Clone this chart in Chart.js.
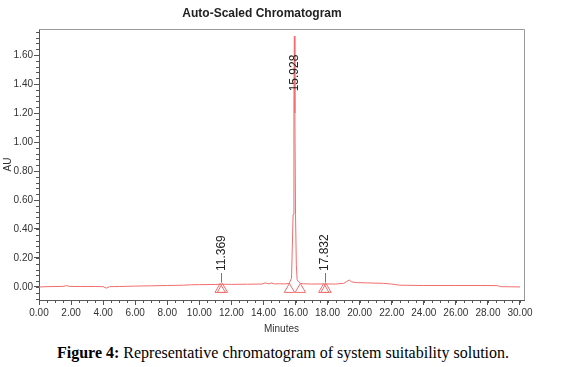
<!DOCTYPE html>
<html>
<head>
<meta charset="utf-8">
<script src="https://cdn.jsdelivr.net/npm/chart.js@4/dist/chart.umd.min.js"></script>
<style>
  body { margin: 0; background: #fff; }
  #wrap { position: relative; width: 566px; height: 367px; }
  #box { position: absolute; left: 0; top: 0; width: 566px; height: 338px; }
  #caption {
    position: absolute; left: 0; top: 344px; width: 566px; text-align: center;
    font-family: "Liberation Serif", "DejaVu Serif", serif; font-size: 16px; color: #000;
  }
</style>
</head>
<body>
<div id="wrap">
  <div id="box"><canvas id="chart"></canvas></div>
  <div id="caption"><b>Figure 4:</b> Representative chromatogram of system suitability solution.</div>
</div>
<script>
// chromatogram trace (minutes, AU)
const times = [0, 0.5, 1.0, 1.5, 1.7, 1.9, 2.5, 3.0, 3.5, 4.0, 4.2, 4.4, 5.0, 6.0, 7.0, 8.0, 9.0, 9.5, 10.0, 11.0, 11.369, 12.0, 13.0, 13.9, 14.1, 14.3, 14.5, 14.7, 15.0, 15.3, 15.6, 15.75, 15.85, 15.9, 15.928, 15.96, 16.0, 16.05, 16.1, 16.2, 16.3, 16.5, 17.0, 17.832, 18.5, 19.0, 19.2, 19.35, 19.5, 19.8, 20.5, 21.5, 22.0, 22.5, 24.0, 26.0, 28.0, 28.6, 28.8, 29.5, 30.0];
const au = [0.000, 0.002, 0.003, 0.004, 0.009, 0.004, 0.003, 0.003, 0.003, 0.002, -0.008, 0.002, 0.003, 0.006, 0.008, 0.010, 0.012, 0.015, 0.016, 0.017, 0.019, 0.018, 0.019, 0.020, 0.028, 0.022, 0.027, 0.021, 0.022, 0.021, 0.024, 0.06, 0.5, 1.3, 1.73, 1.2, 0.5, 0.15, 0.05, 0.035, 0.025, 0.022, 0.020, 0.021, 0.020, 0.025, 0.038, 0.048, 0.035, 0.030, 0.028, 0.025, 0.020, 0.012, 0.010, 0.010, 0.010, 0.009, 0.002, 0.001, 0.000];

// integration markers (peak start / end triangles)
const markerTimes = [11.30, 11.44, 15.62, 16.30, 17.76, 17.90];
const markerAU = [-0.017, -0.017, -0.017, -0.017, -0.017, -0.017];

// peak labels
const peakTimes = [11.369, 15.928, 17.832];
const peakLabels = ["11.369", "15.928", "17.832"];
const peakHeights = [0.02, 1.73, 0.02];
const labelAU = [0.11, 1.35, 0.11];

// axis ticks
const xTicks = [0, 2, 4, 6, 8, 10, 12, 14, 16, 18, 20, 22, 24, 26, 28, 30];
const yTicks = [0, 0.2, 0.4, 0.6, 0.8, 1.0, 1.2, 1.4, 1.6];
const xMinorStep = 0.5;
const yMinorStep = 0.04;

const red = "rgb(240,110,110)";
const tickFont = { family: "'Liberation Sans', Arial, sans-serif", size: 10 };

// minor ticks, plot frame and peak labels
const extras = {
  id: "extras",
  afterDraw(chart) {
    const ctx = chart.ctx;
    const xs = chart.scales.x, ys = chart.scales.y;
    const a = chart.chartArea;
    ctx.save();
    ctx.strokeStyle = "#999";
    ctx.lineWidth = 1;
    ctx.beginPath();
    ctx.moveTo(a.left, a.top + 0.5);
    ctx.lineTo(a.right + 0.5, a.top + 0.5);
    ctx.lineTo(a.right + 0.5, a.bottom);
    ctx.stroke();

    ctx.strokeStyle = "#555";
    ctx.beginPath();
    for (let v = 0; v <= 30 + 1e-9; v += xMinorStep) {
      const px = Math.round(xs.getPixelForValue(v)) + 0.5;
      ctx.moveTo(px, a.bottom);
      ctx.lineTo(px, a.bottom + 3);
    }
    for (let v = -0.08; v <= ys.max + 1e-9; v += yMinorStep) {
      const py = Math.round(ys.getPixelForValue(v)) + 0.5;
      ctx.moveTo(a.left - 3, py);
      ctx.lineTo(a.left, py);
    }
    ctx.stroke();

    ctx.font = "12px 'Liberation Sans', Arial, sans-serif";
    ctx.fillStyle = "#222";
    ctx.textAlign = "left";
    ctx.textBaseline = "middle";
    peakTimes.forEach((t, i) => {
      const px = xs.getPixelForValue(t);
      const py = ys.getPixelForValue(labelAU[i]);
      if (peakHeights[i] < 1) {
        ctx.strokeStyle = "#777";
        ctx.beginPath();
        ctx.moveTo(Math.round(px) + 0.5, py + 2);
        ctx.lineTo(Math.round(px) + 0.5, ys.getPixelForValue(peakHeights[i] + 0.01));
        ctx.stroke();
      }
      ctx.save();
      ctx.translate(px, py);
      ctx.rotate(-Math.PI / 2);
      ctx.fillText(peakLabels[i], 0, 0);
      ctx.restore();
    });
    ctx.restore();
  }
};

new Chart(document.getElementById("chart"), {
  type: "scatter",
  data: {
    datasets: [
      {
        data: times.map((t, i) => ({ x: t, y: au[i] })),
        showLine: true,
        borderColor: red,
        borderWidth: 1,
        pointRadius: 0,
        tension: 0
      },
      {
        data: markerTimes.map((t, i) => ({ x: t, y: markerAU[i] })),
        showLine: false,
        pointStyle: "triangle",
        pointRadius: 6,
        pointBorderColor: red,
        pointBackgroundColor: "rgba(0,0,0,0)",
        pointBorderWidth: 1
      }
    ]
  },
  plugins: [extras],
  options: {
    responsive: true,
    maintainAspectRatio: false,
    animation: false,
    layout: { padding: { left: 0, right: 42, top: 0, bottom: 1 } },
    plugins: {
      legend: { display: false },
      tooltip: { enabled: false },
      title: {
        display: true,
        text: "Auto-Scaled Chromatogram",
        color: "#222",
        font: { family: "'Liberation Sans', Arial, sans-serif", size: 12, weight: "bold" },
        padding: { top: 6, bottom: 8.6 }
      }
    },
    scales: {
      x: {
        type: "linear",
        min: 0,
        max: 30.25,
        afterBuildTicks: s => { s.ticks = xTicks.map(v => ({ value: v })); },
        afterFit: s => { s.height = 37; },
        grid: { drawOnChartArea: false, tickLength: 5, color: "#555" },
        border: { color: "#555" },
        ticks: { color: "#333", font: tickFont, padding: 2, maxRotation: 0, autoSkip: false, callback: v => v.toFixed(2) },
        title: { display: true, text: "Minutes", color: "#333", font: tickFont, padding: { top: 2, bottom: 2 } }
      },
      y: {
        type: "linear",
        min: -0.09,
        max: 1.78,
        afterBuildTicks: s => { s.ticks = yTicks.map(v => ({ value: v })); },
        afterFit: s => { s.width = 39; },
        grid: { drawOnChartArea: false, tickLength: 5, color: "#555" },
        border: { color: "#555" },
        ticks: { color: "#333", font: tickFont, padding: 1, autoSkip: false, callback: v => v.toFixed(2) },
        title: { display: true, text: "AU", color: "#333", font: tickFont, padding: { top: 2, bottom: 0 } }
      }
    }
  }
});
</script>
</body>
</html>
